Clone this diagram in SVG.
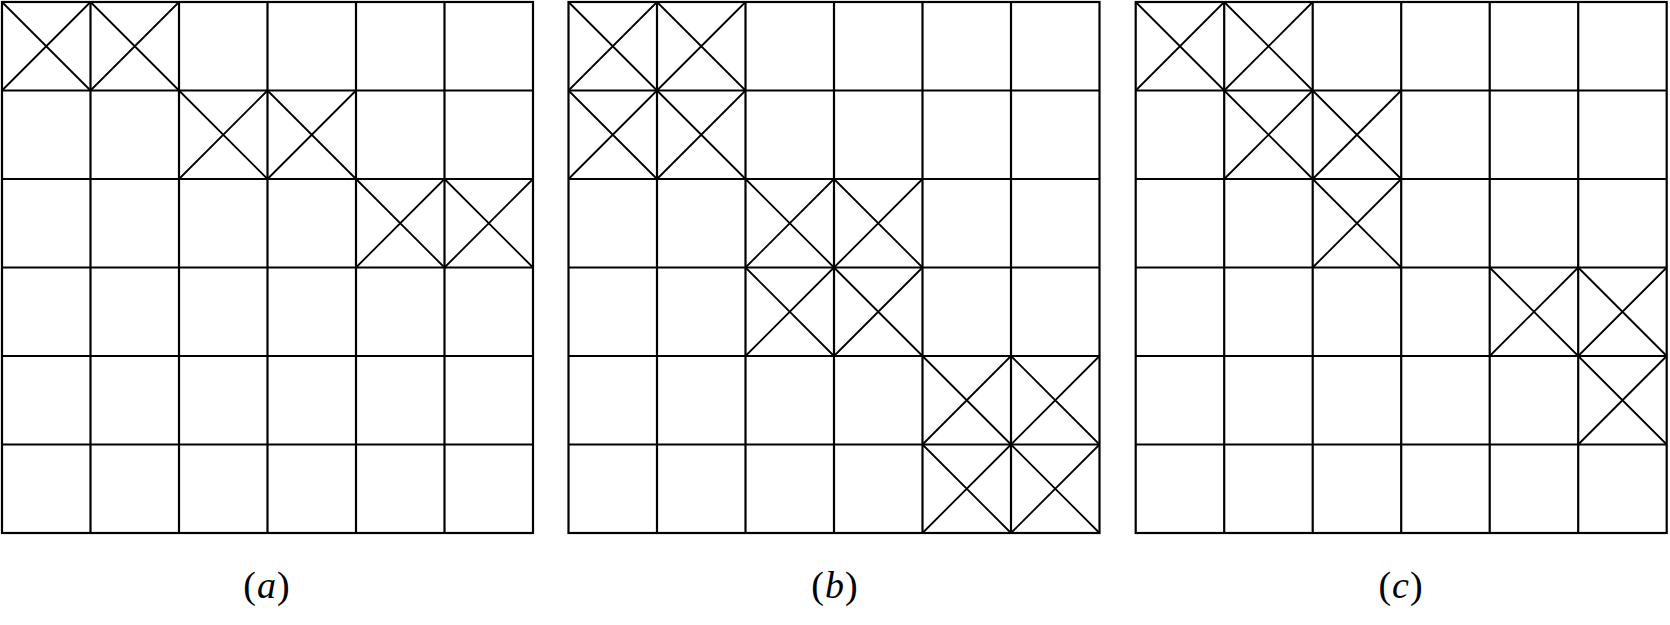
<svg xmlns="http://www.w3.org/2000/svg" width="1670" height="625" viewBox="0 0 1670 625">
<style>
.g{fill:none;stroke:#000;stroke-width:2.2}
.x{stroke:#000;stroke-width:1.8}
.lbl{font-family:"Liberation Serif",serif;font-size:38px;text-anchor:middle;letter-spacing:1px}
.it{font-style:italic}
</style>
<defs>
<g id="grid">
<rect class="g" x="0" y="0" width="531" height="531"/>
<path class="g" d="M88.5 0V531M177 0V531M265.5 0V531M354 0V531M442.5 0V531M0 88.5H531M0 177H531M0 265.5H531M0 354H531M0 442.5H531"/>
</g>
<path id="cx" class="x" d="M0 0L88.5 88.5M88.5 0L0 88.5"/>
</defs>
<rect width="1670" height="625" fill="#fff"/>
<g id="panel-a" transform="translate(2,2)">
<use href="#grid"/>
<use href="#cx" x="0" y="0"/><use href="#cx" x="88.5" y="0"/>
<use href="#cx" x="177" y="88.5"/><use href="#cx" x="265.5" y="88.5"/>
<use href="#cx" x="354" y="177"/><use href="#cx" x="442.5" y="177"/>
</g>
<g id="panel-b" transform="translate(568.5,2)">
<use href="#grid"/>
<use href="#cx" x="0" y="0"/><use href="#cx" x="88.5" y="0"/>
<use href="#cx" x="0" y="88.5"/><use href="#cx" x="88.5" y="88.5"/>
<use href="#cx" x="177" y="177"/><use href="#cx" x="265.5" y="177"/>
<use href="#cx" x="177" y="265.5"/><use href="#cx" x="265.5" y="265.5"/>
<use href="#cx" x="354" y="354"/><use href="#cx" x="442.5" y="354"/>
<use href="#cx" x="354" y="442.5"/><use href="#cx" x="442.5" y="442.5"/>
</g>
<g id="panel-c" transform="translate(1135.7,2)">
<use href="#grid"/>
<use href="#cx" x="0" y="0"/><use href="#cx" x="88.5" y="0"/>
<use href="#cx" x="88.5" y="88.5"/><use href="#cx" x="177" y="88.5"/>
<use href="#cx" x="177" y="177"/>
<use href="#cx" x="354" y="265.5"/><use href="#cx" x="442.5" y="265.5"/>
<use href="#cx" x="442.5" y="354"/>
</g>
<text class="lbl" x="267" y="598">(<tspan class="it">a</tspan>)</text>
<text class="lbl" x="835" y="598">(<tspan class="it">b</tspan>)</text>
<text class="lbl" x="1401" y="598">(<tspan class="it">c</tspan>)</text>
</svg>
